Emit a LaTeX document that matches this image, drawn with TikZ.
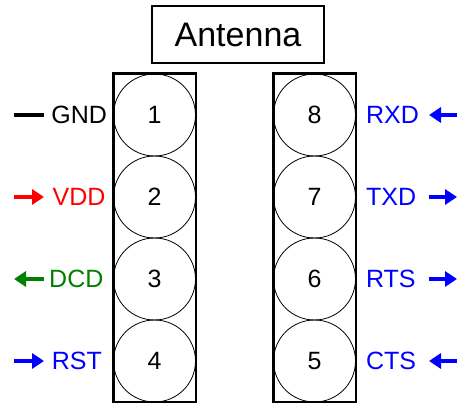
\documentclass[tikz,border=0pt]{standalone}
\usepackage{fontspec}
\setmainfont{Liberation Sans}
\usepackage{xcolor}
\usetikzlibrary{arrows.meta,positioning}
\definecolor{dcdgreen}{RGB}{0,128,0}
\tikzstyle{pin} = [circle, draw, line width=0.8pt, minimum size=82pt, inner sep=0pt,
    font=\fontsize{25}{29}\selectfont]
\tikzstyle{header} = [rectangle, draw, line width=1.3pt, minimum width=172pt, minimum height=57pt,
    font=\fontsize{34}{39}\selectfont]
\tikzstyle{socket} = [draw, line width=2.8pt]
\tikzstyle{signal} = [inner sep=0pt, font=\fontsize{25}{29}\selectfont]
\tikzstyle{wire} = [draw, line width=4.5pt, -{Triangle[length=12pt, width=15pt]}]
\tikzstyle{bar} = [draw, line width=4.5pt]

\begin{document}
\begin{tikzpicture}[x=1pt, y=1pt, node distance = 82pt]
  \useasboundingbox (0,0) rectangle (458,-403);
  % nodes
  \node [header] (antenna) at (238,-34.5) {Antenna};
  \node [pin] (p1) at (154.5,-115) {1};
  \node [pin, below of = p1] (p2) {2};
  \node [pin, below of = p2] (p3) {3};
  \node [pin, below of = p3] (p4) {4};
  \node [pin, right of = p1, node distance = 160pt] (p8) {8};
  \node [pin, below of = p8] (p7) {7};
  \node [pin, below of = p7] (p6) {6};
  \node [pin, below of = p6] (p5) {5};
  \draw [socket] (p1.west |- p1.north) rectangle (p4.east |- p4.south);
  \draw [socket] (p8.west |- p8.north) rectangle (p5.east |- p5.south);
  % signal names
  \node [signal, left = 6pt of p1] (gnd) {GND};
  \node [signal, red, left = 7.5pt of p2] (vdd) {VDD};
  \node [signal, dcdgreen, left = 9.5pt of p3] (dcd) {DCD};
  \node [signal, blue, left = 11pt of p4] (rst) {RST};
  \node [signal, blue, right = 10pt of p8] (rxd) {RXD};
  \node [signal, blue, right = 10pt of p7] (txd) {TXD};
  \node [signal, blue, right = 10pt of p6] (rts) {RTS};
  \node [signal, blue, right = 10pt of p5] (cts) {CTS};
  % wire ends
  \coordinate (westout) at (14,0);
  \coordinate (westin) at (44,0);
  \coordinate (eastin) at (429,0);
  \coordinate (eastout) at (457,0);
  % edges
  \path [bar] (westout |- gnd) -- (westin |- gnd);
  \path [wire, red] (westout |- vdd) -- (westin |- vdd);
  \path [wire, dcdgreen] (westin |- dcd) -- (westout |- dcd);
  \path [wire, blue] (westout |- rst) -- (westin |- rst);
  \path [wire, blue] (eastout |- rxd) -- (eastin |- rxd);
  \path [wire, blue] (eastin |- txd) -- (eastout |- txd);
  \path [wire, blue] (eastin |- rts) -- (eastout |- rts);
  \path [wire, blue] (eastout |- cts) -- (eastin |- cts);
\end{tikzpicture}
\end{document}
